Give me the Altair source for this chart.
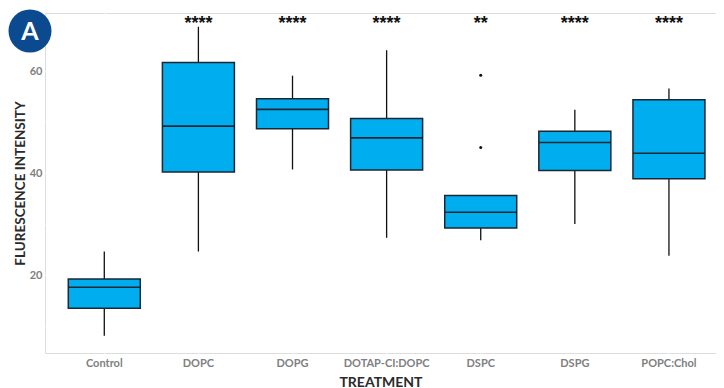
import altair as alt
import pandas as pd

treatments = ["Control", "DOPC", "DOPG", "DOTAP-CI:DOPC", "DSPC", "DSPG", "POPC:Chol"]
lower = [8.1, 24.6, 40.7, 27.3, 26.8, 30.0, 23.8]
q1 = [13.5, 40.2, 48.7, 40.6, 29.2, 40.5, 38.9]
median = [17.6, 49.2, 52.5, 46.9, 32.3, 46.0, 43.9]
q3 = [19.2, 61.7, 54.6, 50.7, 35.6, 48.2, 54.4]
upper = [24.6, 68.7, 59.1, 64.1, 35.6, 52.4, 56.6]
signif = ["", "****", "****", "****", "**", "****", "****"]
signif_y = [70, 70, 70, 70, 70, 70, 70]
outlier_treatment = ["DSPC", "DSPC"]
outlier_value = [59.2, 45.0]
panel_label = ["A"]

df = pd.DataFrame({"treatment": treatments, "lower": lower, "q1": q1,
                   "median": median, "q3": q3, "upper": upper,
                   "signif": signif, "sy": signif_y})
out_df = pd.DataFrame({"treatment": outlier_treatment, "value": outlier_value})
lab_df = pd.DataFrame({"label": panel_label})

FONT = "Lato"

x_enc = alt.X("treatment:N", sort=treatments, title="TREATMENT",
              scale=alt.Scale(paddingInner=0, paddingOuter=0.065, align=1),
              axis=alt.Axis(labelAngle=0, bandPosition=0.5, grid=True,
                            gridColor="white", gridWidth=1.5,
                            labelFont=FONT, labelFontWeight="bold", labelFontSize=11,
                            labelColor="#808080", labelPadding=4,
                            titleFont=FONT, titleFontWeight="bold", titleFontSize=14,
                            titleColor="#2b2b2b", titlePadding=7,
                            domain=False, ticks=False))

y_scale = alt.Scale(domain=[4.7, 71.4], nice=False, zero=False)
y_axis = alt.Axis(values=[10, 20, 30, 40, 50, 60, 70],
                  labelExpr="datum.value % 20 == 0 ? datum.label : ''",
                  grid=True, gridColor="white", gridWidth=1.5,
                  labelFont=FONT, labelFontWeight="bold", labelFontSize=11,
                  labelColor="#808080", labelPadding=3,
                  titleFont=FONT, titleFontWeight="bold", titleFontSize=13.5,
                  titleColor="#2b2b2b", titlePadding=2,
                  domain=False, ticks=False)

base = alt.Chart(df)

whisker = base.mark_rule(color="#111111", strokeWidth=1.3).encode(
    x=x_enc,
    y=alt.Y("lower:Q", scale=y_scale, axis=y_axis, title="FLURESCENCE INTENSITY"),
    y2="upper:Q",
)

box = base.mark_bar(size=72, color="#00AEEF", stroke="#1b2733", strokeWidth=1.5).encode(
    x=alt.X("treatment:N", sort=treatments),
    y=alt.Y("q1:Q", scale=y_scale),
    y2="q3:Q",
)

med = base.mark_tick(size=72, thickness=1.6, color="#1b2733", opacity=1).encode(
    x=alt.X("treatment:N", sort=treatments),
    y=alt.Y("median:Q", scale=y_scale),
)

outl = alt.Chart(out_df).mark_circle(size=9, color="#111111", opacity=1).encode(
    x=alt.X("treatment:N", sort=treatments),
    y=alt.Y("value:Q", scale=y_scale),
)

stars = base.mark_text(font="Liberation Sans", fontSize=18, fontWeight="bold",
                       color="#111111", baseline="middle", dy=4).encode(
    x=alt.X("treatment:N", sort=treatments),
    y=alt.Y("sy:Q", scale=y_scale),
    text="signif:N",
)

badge = alt.Chart(lab_df).mark_point(filled=True, shape="circle", size=1850,
                                       color="#0B4A8F", opacity=1).encode(
    x=alt.value(-15), y=alt.value(18))
badge_text = alt.Chart(lab_df).mark_text(font=FONT, fontSize=25, fontWeight="bold",
                                          color="white", baseline="middle", dy=1).encode(
    x=alt.value(-15), y=alt.value(18), text="label:N")

chart = alt.layer(whisker, box, med, outl, stars, badge, badge_text).properties(
    width=671, height=340,
    autosize=alt.AutoSizeParams(type="none"),
    padding={"left": 37, "top": 5, "right": 0, "bottom": 35},
).configure_view(fill="#EEEFF1", strokeWidth=0).configure(background="white")

chart.save("out.html", embed_options={"renderer": "svg", "actions": False})
